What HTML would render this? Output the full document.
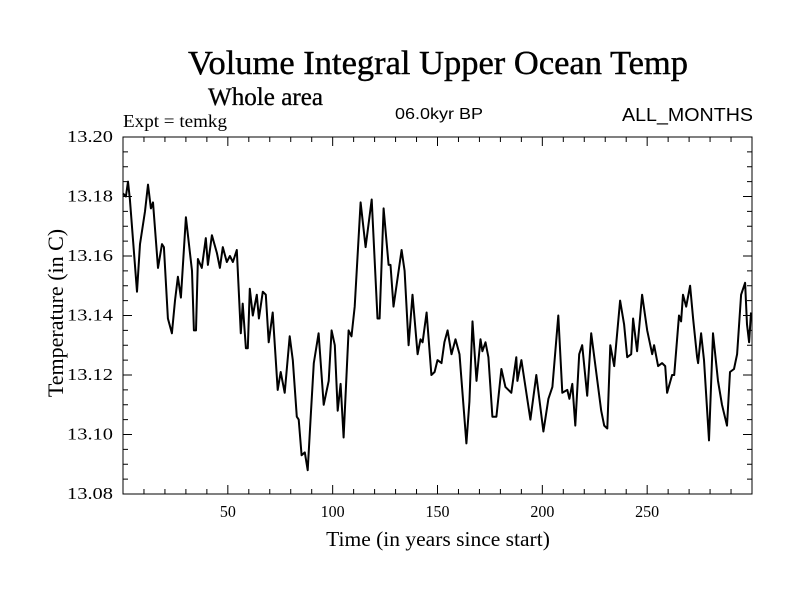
<!DOCTYPE html>
<html><head><meta charset="utf-8"><style>
html,body{margin:0;padding:0;background:#fff;width:800px;height:600px;overflow:hidden}
svg text{fill:#000}
</style></head><body>
<svg id="chart" width="800" height="600" xmlns="http://www.w3.org/2000/svg">
<text x="188" y="74" textLength="500" lengthAdjust="spacingAndGlyphs" font-family="Liberation Serif, serif" font-size="34" stroke="#000" stroke-width="0.4">Volume Integral Upper Ocean Temp</text>
<text x="208" y="105" textLength="115" lengthAdjust="spacingAndGlyphs" font-family="Liberation Serif, serif" font-size="25" stroke="#000" stroke-width="0.3">Whole area</text>
<text x="123" y="127" textLength="104" lengthAdjust="spacingAndGlyphs" font-family="Liberation Serif, serif" font-size="18">Expt = temkg</text>
<text x="395" y="119" textLength="88" lengthAdjust="spacingAndGlyphs" font-family="Liberation Sans, sans-serif" font-size="16">06.0kyr BP</text>
<text x="622" y="121" textLength="131" lengthAdjust="spacingAndGlyphs" font-family="Liberation Sans, sans-serif" font-size="18">ALL_MONTHS</text>
<text transform="translate(63,313) rotate(-90)" text-anchor="middle" font-family="Liberation Serif, serif" font-size="22">Temperature (in C)</text>
<text x="438" y="546" text-anchor="middle" font-family="Liberation Serif, serif" font-size="21.5">Time (in years since start)</text>
<g id="axes"></g>
<rect x="123" y="137" width="629" height="357" fill="none" stroke="#000" stroke-width="1"/>
</svg>
<script>
const years=[0,1.4,2.4,3.3,4.8,6.7,8.1,10.5,11.9,13.3,14.3,16.7,18.6,19.5,21.4,23.3,24.8,26.2,27.6,30,32.9,33.8,34.8,35.7,37.6,39.5,40.5,42.4,44.8,46.2,47.6,49.5,51,52.4,54.3,56.2,57.1,58.6,59.5,60.5,61.9,63.8,64.8,66.7,68.1,69.5,71.4,73.8,75.2,77.1,79.5,81,82.9,83.8,85.2,86.7,88.1,89.5,91,93.3,95.7,98.1,99.5,101,102.4,103.8,105.2,107.6,109,110.5,113.3,115.7,118.6,120,121.4,122.4,124.3,126.7,127.6,129,132.9,134.3,136.2,138.1,140.5,141.9,142.9,144.8,147.1,148.6,150,151.9,153.3,154.8,156.7,158.6,160.5,163.8,165.2,166.7,168.6,170.5,171.4,172.9,174.3,176.2,178.1,180.5,182.4,185.2,187.6,188.1,190,194.3,197.1,200.5,202.9,204.8,207.6,209.5,211.9,212.9,214.3,215.7,217.6,219,221.4,223.3,225.7,228.1,229.5,231,232.4,234.3,237.1,239,240.5,242.4,243.3,245.2,247.6,250,252.4,253.3,255.2,257.1,258.6,259.5,261.9,262.9,265.2,266.2,267.1,268.6,270.5,271.9,273.8,274.3,275.7,277.1,279.5,281.4,283.8,285.7,288.1,289.5,291.4,292.9,294.8,296.7,297.6,298.6,299.5];
const temps=[13.181,13.180,13.185,13.179,13.165,13.148,13.164,13.175,13.184,13.176,13.178,13.156,13.164,13.163,13.139,13.134,13.145,13.153,13.146,13.173,13.155,13.135,13.135,13.159,13.156,13.166,13.157,13.167,13.161,13.156,13.163,13.158,13.160,13.158,13.162,13.134,13.144,13.129,13.129,13.149,13.140,13.147,13.139,13.148,13.147,13.131,13.141,13.115,13.121,13.114,13.133,13.125,13.106,13.105,13.093,13.094,13.088,13.106,13.124,13.134,13.110,13.118,13.135,13.130,13.108,13.117,13.099,13.135,13.133,13.143,13.178,13.163,13.179,13.159,13.139,13.139,13.176,13.157,13.157,13.143,13.162,13.155,13.130,13.147,13.127,13.132,13.131,13.141,13.120,13.121,13.125,13.124,13.131,13.135,13.127,13.132,13.127,13.097,13.111,13.138,13.118,13.132,13.128,13.131,13.126,13.106,13.106,13.122,13.116,13.114,13.126,13.118,13.125,13.105,13.120,13.101,13.112,13.116,13.140,13.114,13.115,13.112,13.117,13.103,13.127,13.130,13.113,13.134,13.121,13.108,13.103,13.102,13.130,13.123,13.145,13.137,13.126,13.127,13.139,13.128,13.147,13.135,13.127,13.130,13.123,13.124,13.123,13.114,13.120,13.120,13.140,13.138,13.147,13.143,13.150,13.139,13.126,13.124,13.134,13.125,13.098,13.134,13.118,13.110,13.103,13.121,13.122,13.127,13.147,13.151,13.137,13.131,13.141];
const xTickLabels=[50,100,150,200,250];
const yTickLabels=["13.08","13.10","13.12","13.14","13.16","13.18","13.20"];
const X0=123,X1=752,Y0=137,Y1=494,xMin=0,xMax=300,yMin=13.08,yMax=13.20;
function sx(v){return X0+(v-xMin)/(xMax-xMin)*(X1-X0);}
function sy(v){return Y1-(v-yMin)/(yMax-yMin)*(Y1-Y0);}
const NS="http://www.w3.org/2000/svg";
const g=document.getElementById('axes');
function ln(x1,y1,x2,y2,name){const l=document.createElementNS(NS,'line');
l.setAttribute('x1',x1);l.setAttribute('y1',y1);l.setAttribute('x2',x2);l.setAttribute('y2',y2);
l.setAttribute('stroke','#000');l.setAttribute('stroke-width','1');


g.appendChild(l);}
for(let v=10;v<300;v+=10){const x=sx(v);const len=(v%50===0)?9:5;
ln(x,Y1,x,Y1-len,'x-tick');ln(x,Y0,x,Y0+len,'x-tick-top');}
for(let i=0;i<=24;i++){const v=yMin+i*0.005;const y=sy(v);const len=(i%4===0)?9:5;
ln(X0,y,X0+len,y,'y-tick');ln(X1,y,X1-len,y,'y-tick-right');}
xTickLabels.forEach(v=>{const t=document.createElementNS(NS,'text');
t.setAttribute('x',sx(v));t.setAttribute('y',Y1+23);t.setAttribute('text-anchor','middle');
t.setAttribute('font-family','Liberation Serif, serif');t.setAttribute('font-size','17');
t.setAttribute('textLength',String(v).length*8);t.setAttribute('lengthAdjust','spacingAndGlyphs');
t.textContent=v;


g.appendChild(t);});
yTickLabels.forEach(s=>{const t=document.createElementNS(NS,'text');
t.setAttribute('x',X0-10);t.setAttribute('y',sy(parseFloat(s))+5);t.setAttribute('text-anchor','end');
t.setAttribute('font-family','Liberation Serif, serif');t.setAttribute('font-size','17');
t.setAttribute('textLength','46');t.setAttribute('lengthAdjust','spacingAndGlyphs');
t.textContent=s;


g.appendChild(t);});
const p=document.createElementNS(NS,'path');
p.setAttribute('d',years.map((y,i)=>(i?'L':'M')+sx(y).toFixed(1)+','+sy(temps[i]).toFixed(1)).join(''));
p.setAttribute('fill','none');p.setAttribute('stroke','#000');p.setAttribute('stroke-width','2');p.setAttribute('stroke-linejoin','round');


g.appendChild(p);
</script>
</body></html>
